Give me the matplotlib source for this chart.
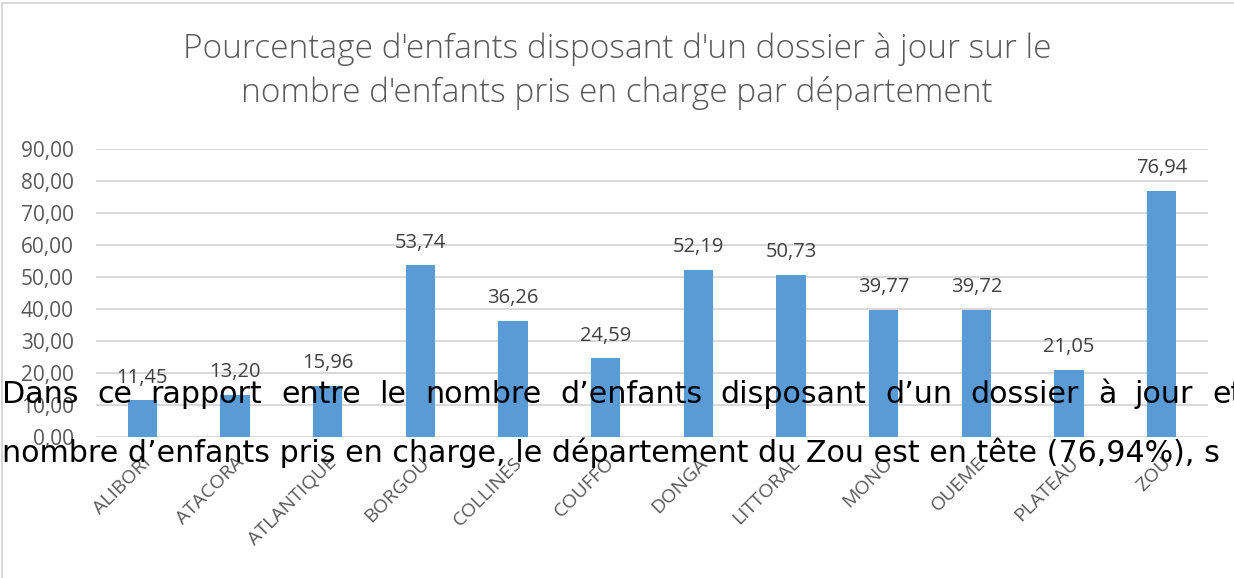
import matplotlib
matplotlib.use("Agg")
import matplotlib.pyplot as plt
from matplotlib.patches import Rectangle
from matplotlib.ticker import FuncFormatter, MultipleLocator

# ── Data ──────────────────────────────────────────────────────────────────────
departements = ["ALIBORI", "ATACORA", "ATLANTIQUE", "BORGOU", "COLLINES", "COUFFO",
                "DONGA", "LITTORAL", "MONO", "OUEME", "PLATEAU", "ZOU"]
pourcentages = [11.45, 13.20, 15.96, 53.74, 36.26, 24.59,
                52.19, 50.73, 39.77, 39.72, 21.05, 76.94]

title = ("Pourcentage d'enfants disposant d'un dossier à jour sur le\n"
         "nombre d'enfants pris en charge par département")
body_line1 = "Dans ce rapport entre le nombre d’enfants disposant d’un dossier à jour et"
body_line2 = "nombre d’enfants pris en charge, le département du Zou est en tête (76,94%), s"

BAR = "#5B9BD5"
GRID = "#D9D9D9"
TXT = "#595959"

W, H, DPI = 1234, 578, 100
fig = plt.figure(figsize=(W / DPI, H / DPI), dpi=DPI)
fig.patch.set_facecolor("white")

# chart frame (left / top edges visible)
fig.add_artist(Rectangle((2 / W, -0.1), 1.2, (H - 3) / H + 0.1, transform=fig.transFigure,
                         fill=False, edgecolor=GRID, linewidth=1.5))

ax = fig.add_axes([96 / W, (H - 437) / H, (1208 - 96) / W, (437 - 149) / H])
x = range(len(departements))
bars = ax.bar(x, pourcentages, width=0.315, color=BAR, zorder=3)
ax.set_xlim(-0.5, len(departements) - 0.5)
ax.set_ylim(0, 90)
ax.yaxis.set_major_locator(MultipleLocator(10))
ax.yaxis.set_major_formatter(FuncFormatter(lambda v, _: f"{v:.2f}".replace(".", ",")))
ax.grid(axis="y", color=GRID, linewidth=1.5, zorder=0)
for s in ax.spines.values():
    s.set_visible(False)
ax.tick_params(axis="both", length=0, colors=TXT, labelsize=15)
ax.tick_params(axis="y", pad=16)
for lab in ax.get_yticklabels():
    lab.set_fontfamily("Open Sans")
ax.set_xticks(list(x))
ax.set_xticklabels(departements, rotation=45, ha="right", rotation_mode="anchor",
                   fontsize=14, fontfamily="Open Sans", color=TXT)
ax.tick_params(axis="x", pad=12)

for rect, v in zip(bars, pourcentages):
    ax.annotate(f"{v:.2f}".replace(".", ","), (rect.get_x() + rect.get_width() / 2, v),
                xytext=(0, 9), textcoords="offset points", ha="center", va="bottom",
                fontsize=14.5, fontfamily="Open Sans", color="#404040")

fig.text(0.5, (H - 71) / H, title, ha="center", va="center", fontsize=24,
         fontfamily="Open Sans", color=TXT, linespacing=1.4, fontweight="light")

# overlaid body text: first line justified, second line plain
renderer = fig.canvas.get_renderer()
words = body_line1.split(" ")
y1 = (H - 403) / H
items = [fig.text(0, y1, w, fontsize=21.7, fontfamily="DejaVu Sans", color="black",
                  va="baseline", ha="left") for w in words]
widths = [t.get_window_extent(renderer).width for t in items]
last_start = 1212
gap = (last_start - 2 - sum(widths[:-1])) / (len(words) - 1)
xpos = 2
for t, wd in zip(items, widths):
    t.set_x(xpos / W)
    xpos += wd + gap
fig.text(2 / W, (H - 462) / H, body_line2, fontsize=21.7, fontfamily="DejaVu Sans",
         color="black", va="baseline", ha="left")

fig.savefig("out.png", dpi=DPI)
